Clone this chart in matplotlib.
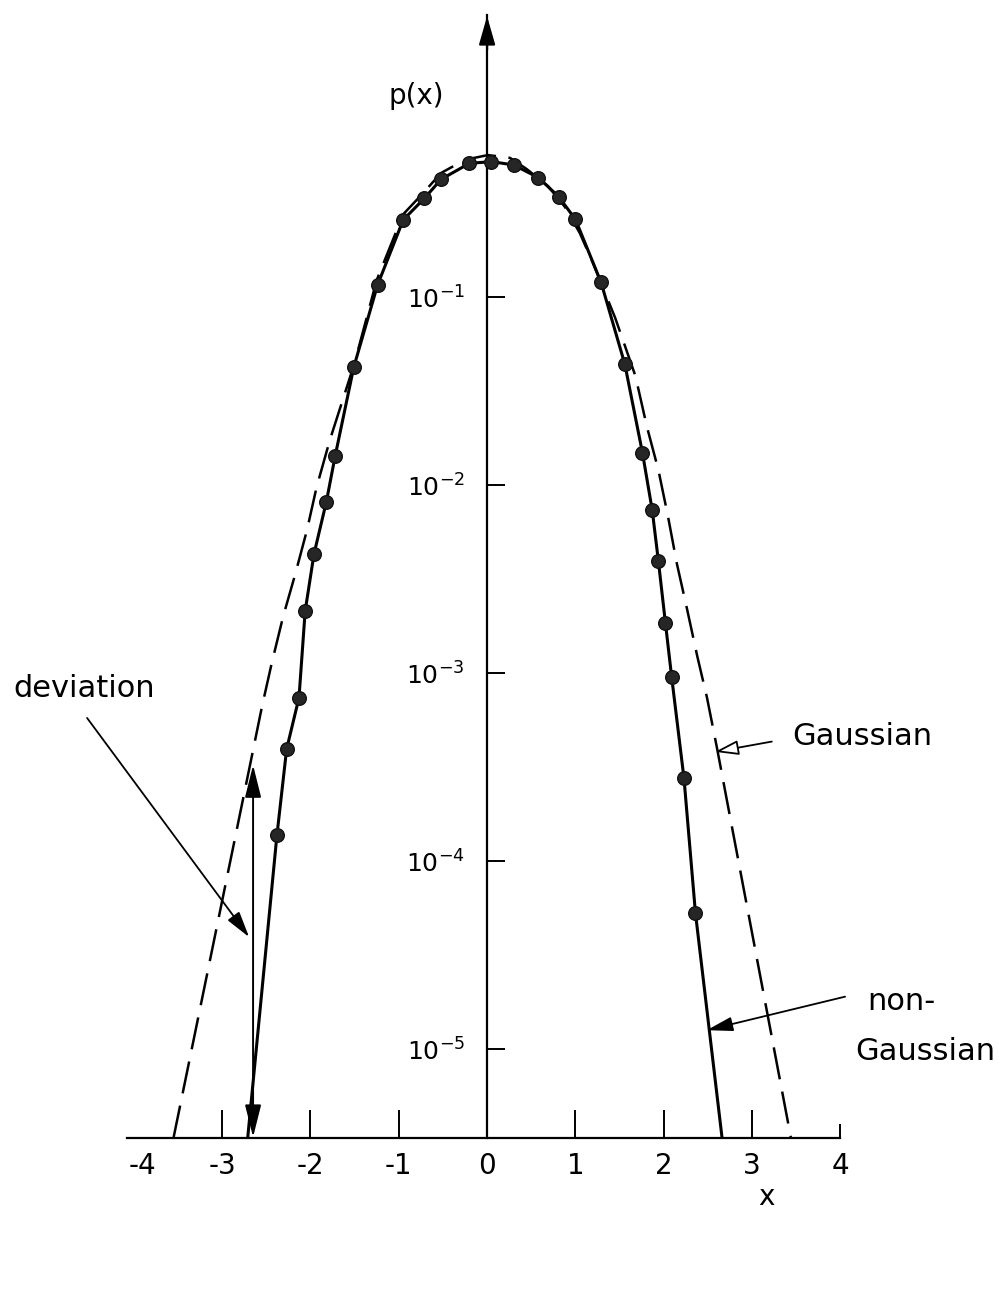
import numpy as np
import matplotlib.pyplot as plt
from matplotlib.transforms import blended_transform_factory, ScaledTranslation

plt.rcParams['font.family'] = 'DejaVu Sans'
plt.rcParams['mathtext.fontset'] = 'dejavusans'
plt.rcParams['axes.unicode_minus'] = False

W, H = 999, 1293

# measured probability density, left and right branches
x_left = [0.05, -0.20, -0.52, -0.71, -0.95, -1.24, -1.51, -1.72, -1.82, -1.96,
          -2.06, -2.13, -2.27, -2.38]
p_left = [0.525, 0.514, 0.423, 0.335, 0.257, 0.116, 0.0423, 0.0143, 0.00815,
          0.0043, 0.00214, 7.4e-4, 3.94e-4, 1.37e-4]
x_right = [0.30, 0.58, 0.81, 1.00, 1.29, 1.56, 1.76, 1.87, 1.94, 2.02, 2.09,
           2.23, 2.36]
p_right = [0.504, 0.432, 0.342, 0.259, 0.120, 0.0439, 0.0148, 0.00736, 0.00394,
           0.00184, 9.55e-4, 2.75e-4, 5.27e-5]

# non-Gaussian curve: where it meets the x axis on each side
x_ng_end = [-2.71, 2.66]
p_ng_end = [3.4e-6, 3.4e-6]

# Gaussian reference curve, x and log10 p(x)
x_gauss = [-3.55, -2.65, -2.55, -2.44, -2.31, -2.17, -2.04, -1.93, -1.78,
           -1.50, -1.25, -0.95, -0.73, -0.52, -0.25, 0.01, 0.26, 0.45, 0.69,
           0.88, 1.05, 1.20, 1.45, 1.68, 1.81, 1.94, 2.05, 2.15, 2.26, 2.38,
           2.49, 2.60, 3.44]
logp_gauss = [-5.47, -3.41, -3.18, -2.95, -2.70, -2.47, -2.24, -2.01, -1.76,
              -1.35, -0.91, -0.56, -0.45, -0.34, -0.27, -0.245, -0.26, -0.32,
              -0.41, -0.52, -0.66, -0.82, -1.11, -1.42, -1.69, -1.92, -2.17,
              -2.42, -2.65, -2.91, -3.13, -3.39, -5.47]

xticks = [-4, -3, -2, -1, 0, 1, 2, 3, 4]
xtick_labels = ['', '-3', '-2', '-1', '0', '1', '2', '3', '4']
yticks = [1e-1, 1e-2, 1e-3, 1e-4, 1e-5]
ytick_labels = [r'$10^{-1}$', r'$10^{-2}$', r'$10^{-3}$', r'$10^{-4}$',
                r'$10^{-5}$']

fig = plt.figure(figsize=(W / 100, H / 100), dpi=100)
x0, x1 = -4.08, 4.0
y0, y1 = 10 ** -5.473, 10 ** 0.5
ax = fig.add_axes([126.8 / W, 1 - 1138 / H, 713.5 / W, 1123 / H])
ax.set_yscale('log')
ax.set_xlim(x0, x1)
ax.set_ylim(y0, y1)
ax.patch.set_visible(False)

# axes drawn as a cross: y axis through x = 0, x axis along the bottom
ax.spines['top'].set_visible(False)
ax.spines['right'].set_visible(False)
ax.spines['left'].set_position(('data', 0))
for s in ('left', 'bottom'):
    ax.spines[s].set_linewidth(1.6)

ax.set_xticks(xticks)
ax.set_xticklabels(xtick_labels)
ax.tick_params(axis='x', direction='in', length=20, width=1.4, pad=10,
               labelsize=20)
ticks = ax.xaxis.get_major_ticks()
ticks[0].tick1line.set_visible(False)
ticks[-1].tick1line.set_markersize(10)
# the -4 label sits a little inside the end of the axis
ax.text(-3.9, 0, '-4', fontsize=20, ha='center', va='top',
        transform=blended_transform_factory(ax.transData, ax.transAxes)
        + ScaledTranslation(0, -10 / 72, fig.dpi_scale_trans))

ax.set_yticks(yticks)
ax.set_yticklabels(ytick_labels)
ax.yaxis.set_minor_locator(plt.NullLocator())
ax.tick_params(axis='y', direction='in', length=13, width=1.4, pad=16,
               labelsize=18)

# arrow head on top of the y axis
ax.annotate('', xy=(0, y1 * 1.02), xytext=(0, 10 ** 0.3),
            arrowprops=dict(arrowstyle='-|>,head_length=0.7,head_width=0.2',
                            color='k', lw=1.6, mutation_scale=25),
            annotation_clip=False)

# curves
ax.plot(x_gauss, 10.0 ** np.array(logp_gauss), color='k', lw=1.8,
        linestyle=(0, (13, 5)), zorder=2, clip_on=False)

x_ng = [x_ng_end[0]] + x_left[::-1] + x_right + [x_ng_end[1]]
p_ng = [p_ng_end[0]] + p_left[::-1] + p_right + [p_ng_end[1]]
ax.plot(x_ng, p_ng, color='k', lw=2.2, zorder=3, clip_on=False)

ax.plot(x_left + x_right, p_left + p_right, 'o', color='#262626',
        markersize=9.8, markeredgecolor='#111111', zorder=4)

# deviation between the two curves
ax.annotate('', xy=(-2.65, 3.24e-4), xytext=(-2.65, 3.4e-6),
            arrowprops=dict(arrowstyle='<|-|>,head_length=0.8,head_width=0.2',
                            color='k', lw=1.4, mutation_scale=25,
                            shrinkA=0, shrinkB=0),
            annotation_clip=False)
ax.annotate('', xy=(-2.695, 3.94e-5), xytext=(-4.53, 5.77e-4),
            arrowprops=dict(arrowstyle='-|>,head_length=0.8,head_width=0.22',
                            color='k', lw=1.3, mutation_scale=20,
                            shrinkA=0, shrinkB=0),
            annotation_clip=False)
ax.annotate('', xy=(2.582, 3.81e-4), xytext=(3.224, 4.32e-4),
            arrowprops=dict(arrowstyle='-|>,head_length=0.8,head_width=0.25',
                            fc='white', ec='k', lw=1.3, mutation_scale=18,
                            shrinkA=0, shrinkB=0),
            annotation_clip=False)
ax.annotate('', xy=(2.488, 1.26e-5), xytext=(4.054, 1.90e-5),
            arrowprops=dict(arrowstyle='-|>,head_length=0.8,head_width=0.22',
                            color='k', lw=1.3, mutation_scale=20,
                            shrinkA=0, shrinkB=0),
            annotation_clip=False)

# labels
def put(px, py, s, **kw):
    fig.text(px / W, 1 - py / H, s, va='baseline', **kw)

put(416, 104, 'p(x)', ha='center', fontsize=20)
put(766, 1205, 'x', ha='center', fontsize=20)
put(13, 697, 'deviation', ha='left', fontsize=22)
put(792, 745, 'Gaussian', ha='left', fontsize=22)
put(867, 1010, 'non-', ha='left', fontsize=22)
put(855, 1060, 'Gaussian', ha='left', fontsize=22)

fig.savefig('out.png', dpi=100)
